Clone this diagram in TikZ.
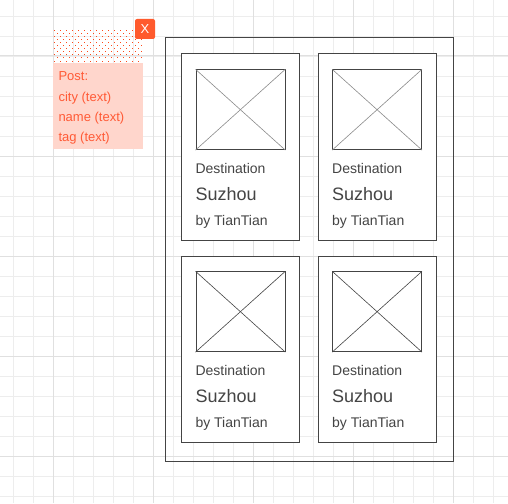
\documentclass[tikz,border=0pt]{standalone}
\usepackage{fontspec}
\setmainfont{Liberation Sans}
\definecolor{gridminor}{HTML}{EDEDED}
\definecolor{gridmajor}{HTML}{E0E0E0}
\definecolor{ink}{HTML}{444444}
\definecolor{diagtop}{HTML}{8A8A8A}
\definecolor{postpink}{HTML}{FFD6CC}
\definecolor{posttext}{HTML}{FF5A36}
\definecolor{xbtn}{HTML}{FF5A2D}
\definecolor{dotred}{HTML}{FF4A1A}
\tikzset{
  card/.style={draw=ink, line width=1pt, fill=white, minimum width=118pt, minimum height=186.5pt, inner sep=0pt, anchor=north west},
  imgbox/.style={draw=ink, line width=0.8pt, minimum width=89pt, minimum height=80pt, inner sep=0pt, anchor=north west},
  smalltxt/.style={anchor=base west, inner sep=0pt, font=\fontsize{14}{16}\selectfont, text=ink},
  bigtxt/.style={anchor=base west, inner sep=0pt, font=\fontsize{18}{20}\selectfont, text=ink},
  posttxt/.style={anchor=base west, inner sep=0pt, font=\fontsize{13}{15}\selectfont, text=posttext},
}
\begin{document}
\begin{tikzpicture}[x=1pt,y=-1pt]
\useasboundingbox (0,0) rectangle (508,503);
\fill[white] (0,0) rectangle (508,503);
% grid
\foreach \i in {0,...,25} {
  \pgfmathsetmacro{\gx}{13.3+20*\i}
  \draw[gridminor, line width=0.8pt] (\gx,0) -- (\gx,503);
}
\foreach \i in {0,...,24} {
  \pgfmathsetmacro{\gy}{16+20*\i}
  \draw[gridminor, line width=0.8pt] (0,\gy) -- (508,\gy);
}
\foreach \i in {0,...,4} {
  \pgfmathsetmacro{\gx}{53.3+100*\i}
  \pgfmathsetmacro{\gy}{56+100*\i}
  \draw[gridmajor, line width=1pt] (\gx,0) -- (\gx,503);
  \draw[gridmajor, line width=1pt] (0,\gy) -- (508,\gy);
}
% dotted header
\foreach \r in {0,...,10} {
  \pgfmathsetmacro{\dy}{31+3*\r}
  \pgfmathtruncatemacro{\odd}{mod(\r,2)}
  \foreach \c in {0,...,14} {
    \pgfmathsetmacro{\dx}{54.3+6*\c+3*\odd}
    \ifdim\dx pt<143pt
      \fill[dotred] (\dx-0.5,\dy-0.5) rectangle (\dx+0.5,\dy+0.5);
    \fi
  }
}
% post box
\node[fill=postpink, minimum width=90pt, minimum height=85.5pt, inner sep=0pt, anchor=north west] (post) at (53,62.8) {};
\node[posttxt] (p1) at (58.3,81) {Post:};
\node[posttxt] (p2) at (58.3,101) {city (text)};
\node[posttxt] (p3) at (58.3,121) {name (text)};
\node[posttxt] (p4) at (58.3,141) {tag (text)};
% X button
\node[fill=xbtn, rounded corners=2pt, minimum width=20pt, minimum height=20pt, inner sep=0pt, text=white, font=\fontsize{13}{15}\selectfont] (xb) at (145,29) {X};
% outer frame
\node[draw=ink, line width=1pt, minimum width=288pt, minimum height=424.3pt, inner sep=0pt, anchor=north west] (frame) at (164.5,36.8) {};
% cards
\foreach \cx/\cy/\nm/\dc in {180.8/53.5/a/diagtop, 317.5/53.5/b/diagtop, 180.8/255.5/c/ink, 317.5/255.5/d/ink} {
  \node[card] (card\nm) at (\cx,\cy) {};
  \node[imgbox] (img\nm) at (\cx+14.7,\cy+15.8) {};
  \draw[\dc, line width=0.6pt] (img\nm.north west) -- (img\nm.south east);
  \draw[\dc, line width=0.6pt] (img\nm.south west) -- (img\nm.north east);
  \node[smalltxt] (dest\nm) at (\cx+14.5,\cy+119.5) {Destination};
  \node[bigtxt] (city\nm) at (\cx+14.5,\cy+146.5) {Suzhou};
  \node[smalltxt] (by\nm) at (\cx+14.5,\cy+171.5) {by TianTian};
}
\end{tikzpicture}
\end{document}
